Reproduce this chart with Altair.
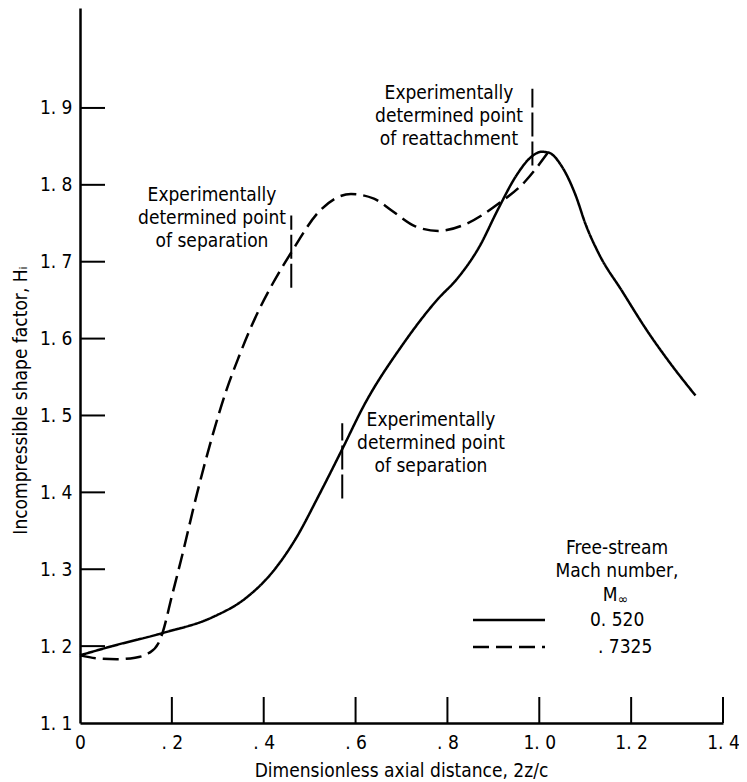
import altair as alt
import pandas as pd

# ---- data ----
series_names = ["0.520", ".7325"]
legend_labels = ["0. 520", ". 7325"]

x_m0520 = [0.0, 0.07, 0.18, 0.29, 0.36, 0.42, 0.47, 0.52, 0.57, 0.62, 0.70, 0.78,
           0.82, 0.87, 0.91, 0.95, 0.98, 1.005, 1.02, 1.05, 1.08, 1.10, 1.13, 1.18,
           1.235, 1.285, 1.34]
y_m0520 = [1.188, 1.200, 1.217, 1.238, 1.262, 1.297, 1.340, 1.396, 1.455, 1.515, 1.590,
           1.652, 1.677, 1.720, 1.768, 1.812, 1.835, 1.843, 1.842, 1.823, 1.785,
           1.750, 1.710, 1.662, 1.610, 1.568, 1.526]

x_m07325 = [0.0, 0.04, 0.08, 0.12, 0.15, 0.17, 0.18, 0.20, 0.22, 0.255, 0.29, 0.32, 0.345,
            0.38, 0.42, 0.46, 0.52, 0.59, 0.64, 0.68, 0.73, 0.78, 0.84, 0.91, 0.97, 1.02]
y_m07325 = [1.188, 1.184, 1.183, 1.185, 1.191, 1.203, 1.218, 1.265, 1.312, 1.399, 1.477,
            1.535, 1.575, 1.625, 1.672, 1.712, 1.765, 1.788, 1.782, 1.766, 1.746, 1.740,
            1.749, 1.775, 1.805, 1.843]

# experimentally determined points (separation / reattachment markers)
marker_x = [0.460, 0.571, 0.985]
marker_lo = [1.666, 1.392, 1.825]
marker_hi = [1.760, 1.490, 1.925]

x_label_values = [0.0, 0.2, 0.4, 0.6, 0.8, 1.0, 1.2, 1.4]
y_label_values = [1.1, 1.2, 1.3, 1.4, 1.5, 1.6, 1.7, 1.8, 1.9]
x_tick_values = [0.2, 0.4, 0.6, 0.8, 1.0, 1.2, 1.4]
y_tick_values = [1.2, 1.3, 1.4, 1.5, 1.6, 1.7, 1.8, 1.9]

FONT = "DejaVu Sans Condensed"
W, H = 643, 715

df = pd.concat([
    pd.DataFrame({"x": x_m0520, "y": y_m0520, "series": series_names[0]}),
    pd.DataFrame({"x": x_m07325, "y": y_m07325, "series": series_names[1]}),
])
markers = pd.DataFrame({"x": marker_x, "lo": marker_lo, "hi": marker_hi})
one = pd.DataFrame({"a": [0]})

x_scale = alt.Scale(domain=[0, 1.4], nice=False, zero=False)
y_scale = alt.Scale(domain=[1.1, 2.03], nice=False, zero=False)

x_axis = alt.Axis(
    values=x_label_values,
    labelExpr="datum.value == 0 ? '0' : (datum.value < 0.99 ? '. ' + substring(format(datum.value, '.1f'), 2) : replace(format(datum.value, '.1f'), '.', '. '))",
    labelPadding=10, labelFlush=False, labelOverlap=False, labelBound=False,
    title="Dimensionless axial distance, 2z/c",
    titleX=321, titleY=47, titleAlign="center", titleBaseline="middle",
)
y_axis = alt.Axis(
    values=y_label_values,
    labelExpr="replace(format(datum.value, '.1f'), '.', '. ')",
    labelPadding=8, labelFlush=False, labelOverlap=False, labelBound=False,
    title="Incompressible shape factor, H\u1d62",
    titleX=-60, titleY=392, titleAngle=270, titleAlign="center", titleBaseline="middle",
)

curves = alt.Chart(df).mark_line(color="black", strokeWidth=2.5, interpolate="monotone").encode(
    x=alt.X("x:Q", scale=x_scale, axis=x_axis),
    y=alt.Y("y:Q", scale=y_scale, axis=y_axis),
    strokeDash=alt.StrokeDash("series:N",
                              scale=alt.Scale(domain=series_names, range=[[1, 0], [16, 7]]),
                              legend=None),
)

ytick = alt.Chart(pd.DataFrame({"y": y_tick_values})).mark_rule(color="black", strokeWidth=2).encode(
    y=alt.Y("y:Q", scale=y_scale, axis=y_axis),
    x=alt.value(0), x2=alt.value(25),
)
xtick = alt.Chart(pd.DataFrame({"x": x_tick_values})).mark_rule(color="black", strokeWidth=2).encode(
    x=alt.X("x:Q", scale=x_scale, axis=x_axis),
    y=alt.value(H), y2=alt.value(H - 26),
)

mark_rules = alt.Chart(markers).mark_rule(color="black", strokeWidth=2, strokeDash=[24, 5]).encode(
    x=alt.X("x:Q", scale=x_scale, axis=x_axis),
    y=alt.Y("lo:Q", scale=y_scale, axis=y_axis),
    y2="hi:Q",
)


def note(lines, px, py, size=19):
    return alt.Chart(one).mark_text(
        font=FONT, fontSize=size, align="center", baseline="middle", lineHeight=23, color="black"
    ).encode(x=alt.value(px), y=alt.value(py), text=alt.value(lines))


notes = [
    note(["Experimentally", "determined point", "of separation"], 132, 187),
    note(["Experimentally", "determined point", "of reattachment"], 369, 85),
    note(["Experimentally", "determined point", "of separation"], 351, 412),
    note(["Free-stream", "Mach number,"], 537, 540),
    note("M", 530, 587),
    note("\u221e", 543, 592, size=14),
]

legend_layers = []
for i, (dash, lab) in enumerate(zip([[1, 0], [16, 7]], legend_labels)):
    yy = 612 + 27 * i
    legend_layers.append(
        alt.Chart(one).mark_rule(color="black", strokeWidth=2.5, strokeDash=dash).encode(
            x=alt.value(393), x2=alt.value(465), y=alt.value(yy))
    )
    legend_layers.append(
        alt.Chart(one).mark_text(font=FONT, fontSize=19, align="left", baseline="middle", color="black").encode(
            x=alt.value(510 + 8 * i), y=alt.value(yy), text=alt.value(lab))
    )

chart = alt.layer(curves, ytick, xtick, mark_rules, *notes, *legend_layers).properties(
    width=W, height=H,
    autosize=alt.AutoSizeParams(type="none"),
    padding={"left": 72, "top": 0, "right": 16, "bottom": 60},
    background="white",
).configure_view(stroke=None).configure_axis(
    grid=False, ticks=False, tickSize=0,
    domainColor="black", domainWidth=2.5,
    labelFont=FONT, labelFontSize=19, labelColor="black",
    titleFont=FONT, titleFontSize=19, titleColor="black", titleFontWeight="normal",
)

chart.save("out.html", embed_options={"renderer": "svg", "actions": False})
